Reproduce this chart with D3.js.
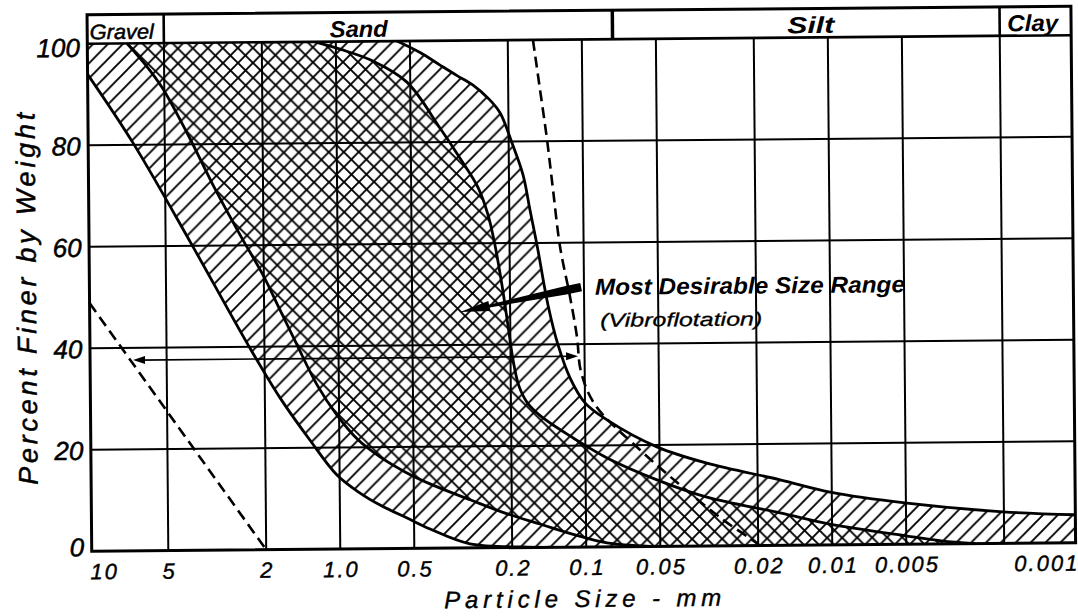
<!DOCTYPE html>
<html><head><meta charset="utf-8">
<script src="https://cdn.jsdelivr.net/npm/d3@7"></script>
<style>body{margin:0;background:#fff}svg{display:block}text{font-family:"Liberation Sans",Arial,sans-serif;font-style:italic;fill:#000}</style>
</head><body>
<svg id="c" width="1078" height="616"></svg>
<script>
// ---- data (particle size in mm, percent finer by weight) ----
const yTickValues = [0, 20, 40, 60, 80, 100];
const yGridValues = [20, 40, 60, 80];
const xTickValues = [10, 5, 2, 1, 0.5, 0.2, 0.1, 0.05, 0.02, 0.01, 0.005, 0.001];
const xTickText = ["10", "5", "2", "1.0", "0.5", "0.2", "0.1", "0.05", "0.02", "0.01", "0.005", "0.001"];
const xGridValues = [5, 2, 1, 0.5, 0.2, 0.1, 0.05, 0.02, 0.01, 0.005, 0.002];
const bandNames = ["Gravel", "Sand", "Silt", "Clay"];
const bandLimits = [10.24, 5, 0.075, 0.002, 0.001025];
const bandLabelSize = [7.41, 0.806, 0.01172, 0.001468];

// boundary curves of the two gradation bands, coarse to fine
const curveA = [[10.24,94],[6.73,80.4],[3.91,60.2],[2.33,40.4],[1.735,29.9],[1.315,21.5],[1.025,14.6],[0.827,11.0],[0.686,8.6],[0.5335,6.0],[0.4306,3.8],[0.2968,0.8],[0.18,0.1],[0.14,0]];
const curveB = [[7.06,100],[5.98,95.9],[5.11,91.3],[4.02,81.9],[3.196,72.0],[2.49,62.1],[2.014,54.1],[1.722,47.2],[1.474,40.3],[1.226,32.4],[1.02,26.4],[0.839,21.5],[0.684,18.1],[0.5417,15.1],[0.4295,12.7],[0.2955,9.5],[0.2132,6.8],[0.154,4.6],[0.111,2.4],[0.0823,0.75],[0.055,0]];
const curveC = [[1.215,100],[0.962,98.5],[0.707,96.1],[0.5157,91.9],[0.38,82.8],[0.3156,76.8],[0.2672,71.0],[0.244,65.6],[0.2292,59.6],[0.2152,51.6],[0.2042,43.7],[0.1954,37.0],[0.1855,31.9],[0.172,28.6],[0.151,25.8],[0.1119,21.5],[0.0817,17.5],[0.0513,13.1],[0.0322,9.6],[0.01626,6.4],[0.01019,4.1],[0.00496,1.6],[0.0036,0.6],[0.00263,0]];
const curveD = [[0.564,100],[0.455,97.7],[0.3778,95.2],[0.3225,93.1],[0.2779,91.2],[0.2416,88.6],[0.2163,85.7],[0.1938,79.7],[0.1753,73.4],[0.1647,66.5],[0.1547,59.6],[0.1402,47.7],[0.128,39.8],[0.1147,33.3],[0.1,28.4],[0.0815,25.0],[0.0512,19.6],[0.0321,16.3],[0.0162,12.9],[0.01017,10.4],[0.00495,8.1],[0.002016,6.2],[0.001025,5.5]];
// dashed limit lines
const dashedLeft = [[10.24,48.9],[2.0,0]];
const dashedRight = [[0.158,100],[0.1484,90.1],[0.1396,80.3],[0.1325,70.4],[0.1247,59.2],[0.114,49.3],[0.1072,41.4],[0.1035,34.5],[0.091,28.0],[0.0599,19.0],[0.0403,11.6],[0.0277,5.1],[0.0203,0.5],[0.0198,0]];
// horizontal double arrow and pointer
const rangeArrowSizes = [6.85, 0.1063];
const rangeArrowPercent = 37.6;
const pointerTail = [0.1027, 51.2];
const pointerTip = [0.3198, 46.5];

// ---- drawing ----
const svg = d3.select("#c");
svg.append("rect").attr("width", 1078).attr("height", 616).attr("fill", "#fff");
const x = d3.scaleLog().domain([bandLimits[0], bandLimits[4]]).range([89.5, 1073.4]);
const y = d3.scaleLinear().domain([0, 100]).range([547, 39.5]);
const bandTop = 10.5;
const X0 = x.range()[0], X1 = x.range()[1], Y0 = y(0), Y1 = y(100);

const defs = svg.append("defs");
const S = 15;
function pattern(id, d) {
  const p = defs.append("pattern").attr("id", id).attr("patternUnits", "userSpaceOnUse")
    .attr("width", S).attr("height", S);
  p.append("path").attr("d", d).attr("stroke", "#000").attr("stroke-width", 1.9).attr("fill", "none");
}
pattern("fwd", `M-3,3 L3,-3 M0,${S} L${S},0 M${S-3},${S+3} L${S+3},${S-3}`);
pattern("bwd", `M-3,${S-3} L3,${S+3} M0,0 L${S},${S} M${S-3},-3 L${S+3},3`);
defs.append("clipPath").attr("id", "plot").append("rect")
  .attr("x", X0).attr("y", Y1).attr("width", X1 - X0).attr("height", Y0 - Y1);

// the scanned original sits slightly rotated
const root = svg.append("g").attr("transform", "rotate(-0.5,580,294)");

const smooth = d3.line().x(d => x(d[0])).y(d => y(d[1])).curve(d3.curveCatmullRom.alpha(0.5));
const straight = d3.line().x(d => x(d[0])).y(d => y(d[1]));

function sample(data) {
  const p = svg.append("path").attr("d", smooth(data));
  const n = p.node(), L = n.getTotalLength(), out = [];
  for (let i = 0; i <= 500; i++) { const q = n.getPointAtLength(L * i / 500); out.push([q.x, q.y]); }
  p.remove();
  return out;
}
const sA = sample(curveA), sB = sample(curveB), sC = sample(curveC), sD = sample(curveD);
const poly = d3.line();
const g = root.append("g").attr("clip-path", "url(#plot)");
const outer = [[X0, Y1], ...sD, [X1, Y0], ...sA.slice().reverse()];
const inner = [...sB, ...sC.slice().reverse()];
g.append("path").attr("d", poly(outer) + "Z").attr("fill", "url(#fwd)");
g.append("path").attr("d", poly(inner) + "Z").attr("fill", "url(#bwd)");

// grid
g.selectAll(".vg").data(xGridValues).join("line")
  .attr("x1", d => x(d)).attr("x2", d => x(d)).attr("y1", Y1).attr("y2", Y0)
  .attr("stroke", "#000").attr("stroke-width", 2);
g.selectAll(".hg").data(yGridValues).join("line")
  .attr("x1", X0).attr("x2", X1).attr("y1", d => y(d)).attr("y2", d => y(d))
  .attr("stroke", "#000").attr("stroke-width", 2);

// dashed lines
g.append("path").attr("d", straight(dashedLeft)).attr("fill", "none")
  .attr("stroke", "#000").attr("stroke-width", 2.6).attr("stroke-dasharray", "11,6");
g.append("path").attr("d", smooth(dashedRight)).attr("fill", "none")
  .attr("stroke", "#000").attr("stroke-width", 2.6).attr("stroke-dasharray", "11,6");

// boundary curves
[curveA, curveB, curveC, curveD].forEach(c => g.append("path").attr("d", smooth(c))
  .attr("fill", "none").attr("stroke", "#000").attr("stroke-width", 2.8));

// range double arrow
const ay = y(rangeArrowPercent), ax0 = x(rangeArrowSizes[0]), ax1 = x(rangeArrowSizes[1]);
root.append("line").attr("x1", ax0 + 6).attr("x2", ax1 - 6).attr("y1", ay).attr("y2", ay)
  .attr("stroke", "#000").attr("stroke-width", 1.7);
root.append("path").attr("d", `M${ax0},${ay}L${ax0 + 12},${ay - 4}L${ax0 + 12},${ay + 4}Z`);
root.append("path").attr("d", `M${ax1},${ay}L${ax1 - 12},${ay - 4}L${ax1 - 12},${ay + 4}Z`);

// pointer arrow
(function () {
  const tx = x(pointerTail[0]), ty = y(pointerTail[1]), px = x(pointerTip[0]), py = y(pointerTip[1]);
  const dx = px - tx, dy = py - ty, len = Math.hypot(dx, dy), ux = dx / len, uy = dy / len, nx = -uy, ny = ux;
  const at = (s, w) => [tx + ux * s + nx * w, ty + uy * s + ny * w];
  const hb = len - 30;
  const pts = [at(0, 4.2), at(16, 4.2), at(hb, 1.4), at(hb, 5), [px, py], at(hb, -5), at(hb, -1.4), at(16, -4.2), at(0, -4.2)];
  root.append("path").attr("d", d3.line()(pts) + "Z").attr("fill", "#000");
})();

// frame and band
root.append("rect").attr("x", X0).attr("y", bandTop).attr("width", X1 - X0).attr("height", Y0 - bandTop)
  .attr("fill", "none").attr("stroke", "#000").attr("stroke-width", 3);
root.append("line").attr("x1", X0).attr("x2", X1).attr("y1", Y1).attr("y2", Y1)
  .attr("stroke", "#000").attr("stroke-width", 2.6);
root.selectAll(".bd").data(bandLimits.slice(1, 4)).join("line")
  .attr("x1", d => x(d)).attr("x2", d => x(d)).attr("y1", bandTop).attr("y2", Y1)
  .attr("stroke", "#000").attr("stroke-width", (d, i) => i === 1 ? 3.5 : 2.6);
const bandLens = [64, 58, 47, 51];
root.selectAll(".bl").data(bandNames).join("text")
  .attr("x", (d, i) => x(bandLabelSize[i])).attr("y", 35)
  .attr("text-anchor", "middle").attr("font-weight", (d, i) => i === 0 ? "normal" : "bold")
  .attr("font-size", (d, i) => i === 0 ? 21 : 23)
  .attr("stroke", "#000").attr("stroke-width", (d, i) => i === 0 ? 0.5 : 0)
  .attr("textLength", (d, i) => bandLens[i]).attr("lengthAdjust", "spacingAndGlyphs")
  .text(d => d);

// tick labels
root.selectAll(".yl").data(yTickValues).join("text")
  .attr("x", 82).attr("y", d => y(d) + 10 + (d === 0 ? -5 : d === 100 ? 3 : 0)).attr("text-anchor", "end")
  .attr("font-size", 26).attr("stroke", "#000").attr("stroke-width", 0.5).text(d => d);
root.selectAll(".xl").data(xTickValues).join("text")
  .attr("x", (d, i) => i === 0 ? 88 : (i === xTickValues.length - 1 ? 1077 : x(d) + 1))
  .attr("y", 575)
  .attr("text-anchor", (d, i) => i === 0 ? "start" : (i === xTickValues.length - 1 ? "end" : "middle"))
  .attr("font-size", 22).attr("letter-spacing", 2).attr("stroke", "#000").attr("stroke-width", 0.4)
  .text((d, i) => xTickText[i]);

// axis titles
root.append("text").attr("x", 580).attr("y", 607).attr("text-anchor", "middle")
  .attr("font-size", 24).attr("textLength", 277).attr("lengthAdjust", "spacing")
  .attr("stroke", "#000").attr("stroke-width", 0.4)
  .text("Particle Size - mm");
root.append("text").attr("transform", "translate(36,294) rotate(-90)").attr("text-anchor", "middle")
  .attr("font-size", 27).attr("textLength", 372).attr("lengthAdjust", "spacing")
  .attr("stroke", "#000").attr("stroke-width", 0.5)
  .text("Percent Finer by Weight");

// annotation
root.append("text").attr("x", 595).attr("y", 295).attr("font-size", 23).attr("font-weight", "bold")
  .attr("textLength", 310).attr("lengthAdjust", "spacingAndGlyphs").text("Most Desirable Size Range");
root.append("text").attr("x", 600).attr("y", 327).attr("font-size", 19)
  .attr("stroke", "#000").attr("stroke-width", 0.3)
  .attr("textLength", 162).attr("lengthAdjust", "spacingAndGlyphs").text("(Vibroflotation)");
</script>
</body></html>
